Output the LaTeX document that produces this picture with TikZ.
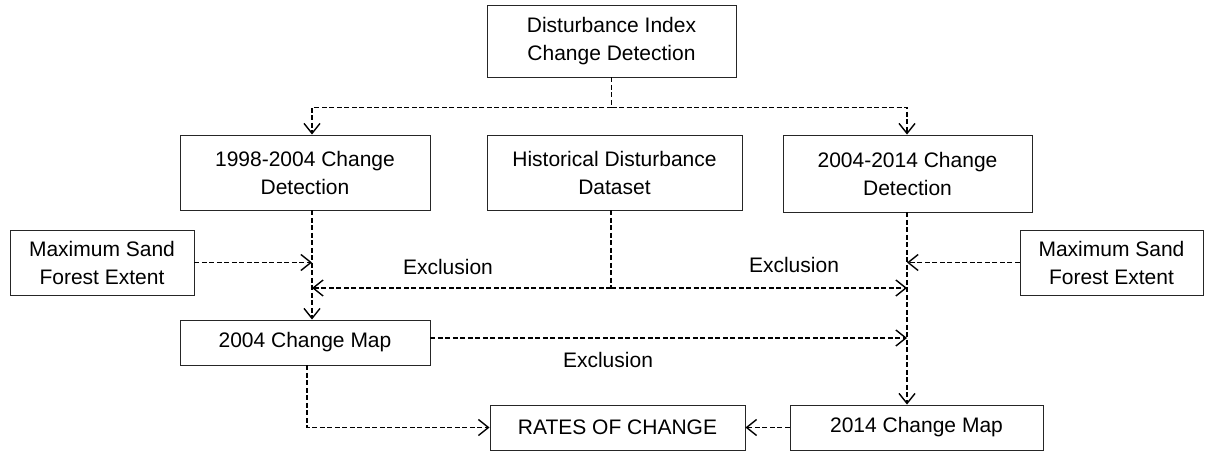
\documentclass[tikz,border=0pt]{standalone}
\usepackage{fontspec}
\setmainfont{Liberation Sans}
\usetikzlibrary{arrows.meta}
\begin{document}
\begin{tikzpicture}[x=1pt,y=-1pt,
  box/.style={draw=black!85, line width=0.9pt, inner sep=0pt, align=center,
    font=\fontsize{21}{28}\selectfont},
  dl/.style={line width=1.5pt, dash pattern=on 5pt off 2.5pt},
  arr/.style={dl, -{Straight Barb[length=10pt,width=16pt,line width=1.4pt]}},
  lbl/.style={font=\fontsize{21}{28}\selectfont, inner sep=0pt}]
\useasboundingbox (0,0) rectangle (1213,452);
\fill[white] (0,0) rectangle (1213,452);
% boxes
\node[box, minimum width=249pt, minimum height=72pt] (top) at (611.5,41) {Disturbance Index\\Change Detection};
\node[box, minimum width=250pt, minimum height=75pt] (a) at (305,172.5) {1998-2004 Change\\Detection};
\node[box, minimum width=255pt, minimum height=75pt] (h) at (614.5,172.5) {Historical Disturbance\\Dataset};
\node[box, minimum width=249pt, minimum height=77pt] (b) at (907.5,173.5) {2004-2014 Change\\Detection};
\node[box, minimum width=184pt, minimum height=65pt] (msl) at (102,262.5) {Maximum Sand\\Forest Extent};
\node[box, minimum width=183pt, minimum height=65pt] (msr) at (1111.5,262.5) {Maximum Sand\\Forest Extent};
\node[box, minimum width=250pt, minimum height=45pt] (m04) at (305,342.5) {2004 Change Map};
\node[box, minimum width=255pt, minimum height=45pt] (rates) at (617.5,427.5) {RATES OF CHANGE};
\node[box, minimum width=253pt, minimum height=45pt] (m14) at (916.5,427.5) {2014 Change Map};
% column guides
\coordinate (cL) at (312,0);
\coordinate (cR) at (907,0);
% top split
\draw[dl] (top.south) -- ++(0,30) coordinate (j1);
\draw[arr] (j1) -| (a.north -| cL);
\draw[arr] (j1) -| (b.north -| cR);
% left column
\draw[arr] (a.south -| cL) -- (m04.north -| cL);
\draw[arr] (msl.east) -- (msl.east -| cL);
% historical
\draw[dl] (h.south -| 611,0) -- (611,288) coordinate (j2);
\draw[arr] (j2) -- (j2 -| cL);
\draw[arr] (j2) -- (j2 -| cR);
\node[lbl] (e1) at (448,267) {Exclusion};
\node[lbl] (e2) at (794,265) {Exclusion};
% right column
\draw[arr] (b.south -| cR) -- (m14.north -| cR);
\draw[arr] (msr.west) -- (msr.west -| cR);
% 2004 map exclusion
\draw[arr] (m04.east |- 0,338) -- (cR |- 0,338);
\node[lbl] (e3) at (608,360) {Exclusion};
% rates
\draw[arr] (m04.south -| 307,0) |- (rates.west);
\draw[arr] (m14.west) -- (rates.east);
\end{tikzpicture}
\end{document}
